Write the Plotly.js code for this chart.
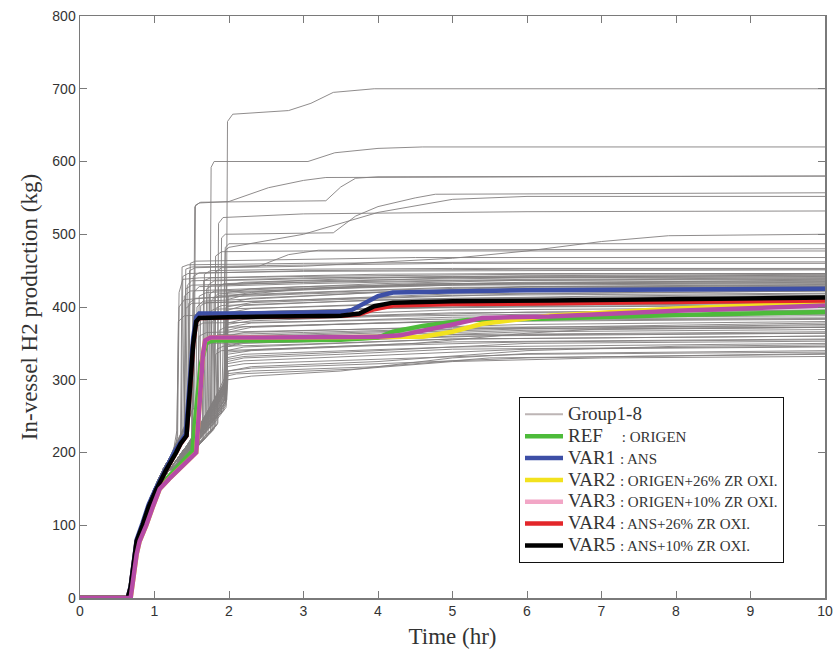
<!DOCTYPE html>
<html>
<head>
<meta charset="utf-8">
<script src="https://cdn.plot.ly/plotly-3.0.1.min.js"></script>
<style>html,body{margin:0;padding:0;background:#fff;}#chart{width:835px;height:659px;}</style>
</head>
<body>
<div id="chart"></div>
<script>
// ---- shared early rise (trunk) of the Group1-8 curves ----
const trunkT = [0, 0.64, 0.68, 0.72, 0.76, 0.84, 0.92, 1.02, 1.12, 1.2];
const trunkLeftY = [0, 0, 18, 55, 82, 106, 132, 156, 178, 192];
const trunkMidY  = [0, 0, 15, 50, 78, 100, 125, 148, 165, 176];
const trunkFanY  = [0, 0, 12, 45, 74, 97, 120, 140, 155, 165];

// ---- Group1-8 tails: [time, value, time, value, ...] ----
const grayLeft = [
  [1.25,200, 1.3,230, 1.33,420, 1.38,438, 1.6,440, 2.5,442, 4,445, 6,446, 10,446],
  [1.25,200, 1.31,222, 1.33,400, 1.4,410, 2,415, 3,425, 4.5,432, 10,435],
  [1.3,215, 1.42,240, 1.44,430, 1.5,436, 3,440, 5,442, 10,443],
  [1.3,212, 1.4,235, 1.42,452, 1.5,455, 2.5,457, 5,460, 10,460],
  [1.3,210, 1.45,245, 1.47,450, 1.55,454, 2.4,456, 2.8,472, 3.2,478, 10,480],
  [1.35,220, 1.52,262, 1.54,538, 1.6,543, 2.0,545, 2.53,564, 3.0,574, 3.3,578, 10,580],
  [1.35,220, 1.53,262, 1.55,540, 1.62,544, 3.3,546, 3.5,565, 3.7,577, 4,579, 10,580],
  [1.25,198, 1.35,225, 1.37,455, 1.45,458, 3,460, 6,462, 10,462],
  [1.25,195, 1.38,228, 1.4,415, 1.48,422, 3,428, 6,434, 10,436],
  [1.3,205, 1.4,228, 1.42,398, 1.5,405, 3,410, 5,418, 10,422],
  [1.2,192, 1.3,215, 1.32,380, 1.4,388, 3,394, 5,402, 10,406],
  [1.25,200, 1.36,226, 1.38,442, 1.45,446, 3,450, 6,452, 10,452],
  [1.25,198, 1.4,232, 1.42,425, 1.5,430, 3,434, 6,438, 10,440],
  [1.28,205, 1.44,242, 1.46,405, 1.55,412, 3,418, 6,426, 10,428],
  [1.3,208, 1.46,246, 1.48,460, 1.55,463, 3,465, 4.5,468, 10,468]
];
const grayMid = [
  [1.4,205, 1.6,230, 1.74,255, 1.76,592, 1.8,600, 3.06,600, 3.42,612, 4.0,618, 4.6,620, 10,620],
  [1.4,205, 1.6,228, 1.84,250, 1.86,515, 1.92,523, 3,528, 6,531, 10,532],
  [1.4,205, 1.7,240, 1.88,255, 1.9,495, 1.95,500, 3.4,502, 3.7,525, 4.0,538, 4.5,550, 4.77,555, 10,557],
  [1.4,200, 1.6,220, 1.8,240, 1.82,448, 1.9,454, 3,456, 4,462, 5,467, 6,477, 7,490, 7.9,498, 10,500],
  [1.45,210, 1.5,215, 1.52,420, 1.6,428, 3,432, 5,436, 10,438],
  [1.45,208, 1.55,220, 1.57,400, 1.65,408, 2.5,412, 4,420, 6,428, 10,430],
  [1.4,205, 1.65,232, 1.67,445, 1.75,450, 3,452, 5,453, 10,453],
  [1.4,205, 1.7,238, 1.72,430, 1.8,436, 3.5,440, 6,441, 10,441],
  [1.4,205, 1.75,240, 1.77,410, 1.85,418, 3,425, 5,432, 10,437],
  [1.4,205, 1.8,245, 1.82,470, 1.9,476, 3,477, 10,477],
  [1.45,210, 1.9,255, 1.95,482, 2.0,487, 10,487],
  [1.4,205, 1.75,240, 1.93,258, 1.95,478, 2.0,482, 3,500, 4,530, 5,548, 6,552, 10,552],
  [1.4,205, 1.8,240, 1.96,262, 1.98,655, 2.05,665, 2.8,670, 3.1,680, 3.4,695, 3.95,700, 10,700]
];
const grayNorm = [
  [1.3,180, 1.5,200, 1.55,372, 1.65,378, 3,380, 5,386, 10,390],
  [1.3,178, 1.55,205, 1.6,360, 1.7,365, 3,368, 5,372, 10,374],
  [1.3,180, 1.6,210, 1.65,345, 1.75,350, 3,352, 5,360, 10,364],
  [1.3,182, 1.6,212, 1.7,222, 1.72,392, 1.8,397, 3,400, 5,406, 10,408],
  [1.3,180, 1.65,216, 1.75,228, 1.77,380, 1.85,384, 3,386, 5,392, 10,395],
  [1.3,176, 1.7,222, 1.8,234, 1.82,335, 1.9,340, 3,344, 5,352, 10,356],
  [1.3,184, 1.5,205, 1.58,214, 1.6,415, 1.7,420, 3,424, 5,430, 10,432],
  [1.3,182, 1.6,212, 1.68,222, 1.7,425, 1.78,430, 3,434, 5,440, 10,444],
  [1.3,186, 1.45,205, 1.5,210, 1.52,388, 1.6,392, 3,395, 5,400, 10,403],
  [1.3,180, 1.7,225, 1.85,240, 1.87,368, 1.95,372, 3,375, 5,380, 10,383],
  [1.3,182, 1.55,208, 1.6,213, 1.62,402, 1.7,406, 3,410, 5,416, 10,419],
  [1.3,181, 1.6,211, 1.72,224, 1.74,418, 1.8,422, 3,426, 5,431, 10,434],
  [1.3,183, 1.58,210, 1.64,218, 1.66,436, 1.75,440, 3,442, 6,445, 10,446],
  [1.3,179, 1.62,214, 1.8,232, 1.82,398, 1.9,402, 3,406, 5,412, 10,416],
  [1.3,185, 1.5,208, 1.52,442, 1.6,447, 3,449, 6,450, 10,451],
  [1.3,180, 1.68,220, 1.78,230, 1.8,412, 1.88,416, 3,420, 5,427, 10,429],
  [1.3,178, 1.66,218, 1.84,238, 1.86,428, 1.93,432, 3,436, 6,440, 10,442],
  [1.3,177, 1.6,212, 1.76,228, 1.78,358, 1.86,362, 3,365, 5,370, 10,372],
  [1.3,181, 1.64,216, 1.82,236, 1.84,342, 1.92,346, 3,349, 5,356, 10,360],
  [1.3,183, 1.56,210, 1.66,220, 1.68,382, 1.75,386, 3,389, 5,396, 10,399]
];
const grayFan = [
  [1.4,195, 1.6,218, 1.8,244, 1.95,266, 1.97,305, 2.1,308, 3,312, 3.77,315, 5,325, 7,330, 10,332],
  [1.4,196, 1.6,220, 1.8,247, 1.95,270, 1.97,318, 2.2,322, 4,328, 6,335, 10,338],
  [1.4,197, 1.6,222, 1.8,250, 1.94,274, 1.96,330, 2.2,335, 3,338, 5,345, 8,348, 10,350],
  [1.4,198, 1.6,224, 1.8,254, 1.95,279, 1.97,340, 2.2,345, 3.5,350, 5,356, 10,360],
  [1.4,199, 1.6,226, 1.8,257, 1.94,283, 1.96,350, 2.3,356, 4,362, 6,368, 10,372],
  [1.4,200, 1.6,228, 1.8,260, 1.95,287, 1.97,360, 2.2,365, 4,370, 6,376, 10,380],
  [1.4,201, 1.6,230, 1.8,263, 1.93,290, 1.95,345, 2.2,352, 3,358, 5,362, 10,366],
  [1.4,202, 1.6,232, 1.8,266, 1.96,294, 1.98,372, 2.3,378, 4,382, 7,386, 10,388],
  [1.4,203, 1.6,234, 1.8,270, 1.95,298, 1.97,385, 2.3,392, 4,398, 6,402, 10,405],
  [1.4,204, 1.6,236, 1.8,273, 1.94,302, 1.96,395, 2.2,402, 4,410, 7,415, 10,418],
  [1.4,196, 1.6,219, 1.85,252, 1.97,272, 1.99,312, 2.3,318, 4,325, 6,340, 8,346, 10,348],
  [1.4,197, 1.65,225, 1.85,256, 1.96,276, 1.98,325, 2.2,330, 3.5,335, 5,342, 10,346],
  [1.4,199, 1.6,227, 1.8,259, 1.95,284, 1.97,365, 2.3,372, 4,378, 6,384, 10,385],
  [1.4,201, 1.6,231, 1.8,264, 1.96,292, 1.98,378, 2.2,383, 4,388, 6,393, 10,396],
  [1.4,203, 1.6,235, 1.8,268, 1.95,296, 1.97,405, 2.3,412, 4,420, 6,425, 10,428],
  [1.4,204, 1.6,237, 1.8,271, 1.97,300, 1.99,415, 2.3,420, 4,428, 6,432, 10,433],
  [1.4,198, 1.6,223, 1.8,252, 1.94,272, 1.96,338, 2.5,342, 4.5,350, 6,364, 7,370, 10,372],
  [1.4,200, 1.6,229, 1.8,261, 1.93,286, 1.95,355, 2.5,360, 4,364, 6,370, 10,376],
  [1.4,195, 1.6,217, 1.8,242, 1.96,265, 1.98,300, 2.3,305, 3.5,312, 5,330, 6,336, 10,340],
  [1.4,204, 1.6,236, 1.8,272, 1.96,301, 1.98,392, 2.3,398, 4,404, 6,410, 10,412],
  [1.4,196, 1.6,221, 1.8,248, 1.96,270, 1.98,312, 2.3,316, 4,322, 6,330, 10,336],
  [1.4,198, 1.6,225, 1.8,255, 1.95,281, 1.97,322, 2.2,326, 4,334, 6,342, 10,345],
  [1.4,199, 1.6,227, 1.8,258, 1.96,285, 1.98,335, 2.3,340, 4,347, 6,352, 10,355],
  [1.4,200, 1.6,229, 1.8,262, 1.94,288, 1.96,345, 2.2,350, 4,356, 6,362, 10,364],
  [1.4,201, 1.6,231, 1.8,265, 1.95,291, 1.97,355, 2.3,361, 4,366, 6,372, 10,378],
  [1.4,202, 1.6,233, 1.8,268, 1.96,295, 1.98,368, 2.2,373, 4,378, 6,382, 10,384],
  [1.4,203, 1.6,235, 1.8,270, 1.95,297, 1.97,376, 2.3,381, 4,387, 6,390, 10,392],
  [1.4,204, 1.6,236, 1.8,272, 1.97,300, 1.99,388, 2.2,393, 4,398, 6,400, 10,402],
  [1.4,203, 1.6,234, 1.8,269, 1.94,294, 1.96,400, 2.3,406, 4,412, 6,418, 10,422],
  [1.4,202, 1.6,232, 1.8,267, 1.95,292, 1.97,410, 2.2,416, 4,423, 6,428, 10,431],
  [1.4,201, 1.6,230, 1.8,263, 1.96,289, 1.98,420, 2.3,425, 4,432, 6,437, 10,439],
  [1.4,200, 1.6,228, 1.8,260, 1.95,286, 1.97,430, 2.2,434, 4,440, 6,443, 10,445],
  [1.4,199, 1.6,226, 1.8,256, 1.93,280, 1.95,308, 2.3,312, 4,318, 5.5,330, 10,335],
  [1.4,197, 1.6,223, 1.8,251, 1.96,274, 1.98,328, 2.2,332, 4,340, 6,350, 10,353],
  [1.4,198, 1.6,224, 1.8,253, 1.95,277, 1.97,348, 2.3,353, 4,359, 6,366, 10,369]
];

// ---- highlighted cases ----
const refT  = [0, 0.66, 0.7, 0.74, 0.78, 0.86, 0.95, 1.04, 1.2, 1.35, 1.51, 1.55, 1.62, 1.7, 1.8, 2.5, 3.5, 4.0, 4.2, 4.6, 5.2, 6.2, 8, 10];
const refY  = [0, 0, 30, 60, 80, 100, 125, 150, 168, 185, 202, 250, 320, 352, 354, 354, 355, 358, 366, 374, 382, 384, 389, 393];
const var1T = [0, 0.64, 0.68, 0.72, 0.76, 0.84, 0.92, 1.02, 1.15, 1.28, 1.35, 1.42, 1.46, 1.52, 1.56, 1.6, 2.0, 3.0, 3.5, 3.65, 3.85, 4.0, 4.2, 5, 6, 8, 10];
const var1Y = [0, 0, 16, 52, 80, 103, 128, 151, 178, 203, 214, 225, 280, 358, 386, 391, 391, 392, 393, 396, 407, 415, 420, 422, 423, 424, 425];
const magT  = [0, 0.68, 0.72, 0.76, 0.8, 0.89, 0.98, 1.07, 1.2, 1.35, 1.5, 1.56, 1.6, 1.65, 1.68, 1.75, 2.5, 3.5, 4.0, 4.3, 4.6, 5.0, 5.4, 6.3, 8, 10];
const var2Y = [0, 0, 30, 60, 78, 100, 126, 150, 164, 180, 194, 200, 268, 335, 354, 358, 358, 358, 358, 358, 359, 366, 377, 388, 398, 406];
const var3Y = [0, 0, 30, 60, 78, 100, 126, 150, 164, 180, 194, 200, 268, 335, 354, 358, 358, 359, 359, 361, 368, 376, 385, 387, 395, 402];
const ansT  = [0, 0.64, 0.68, 0.72, 0.76, 0.84, 0.92, 1.02, 1.15, 1.29, 1.35, 1.43, 1.47, 1.52, 1.56, 1.6, 2.0, 3.0, 3.5, 3.75, 3.95, 4.2, 5.0, 6.3, 8, 10];
const var4Y = [0, 0, 15, 50, 78, 100, 125, 148, 175, 200, 212, 223, 275, 350, 380, 385, 386, 387, 388, 390, 397, 402, 404, 405, 407, 409];
const var5Y = [0, 0, 15, 50, 78, 100, 125, 148, 175, 200, 212, 223, 275, 350, 380, 385, 386, 387, 388, 391, 401, 406, 408, 409, 411, 413];

const legendNames = [
  '<span style="font-size:19px">Group1-8</span>',
  '<span style="font-size:19px">REF    </span><span style="font-size:15px">: ORIGEN</span>',
  '<span style="font-size:19px">VAR1 </span><span style="font-size:15px">: ANS</span>',
  '<span style="font-size:19px">VAR2 </span><span style="font-size:15px">: ORIGEN+26% ZR OXI.</span>',
  '<span style="font-size:19px">VAR3 </span><span style="font-size:15px">: ORIGEN+10% ZR OXI.</span>',
  '<span style="font-size:19px">VAR4 </span><span style="font-size:15px">: ANS+26% ZR OXI.</span>',
  '<span style="font-size:19px">VAR5 </span><span style="font-size:15px">: ANS+10% ZR OXI.</span>'
];
const legendColors = ['#bdb5b5', '#4dbb3a', '#3d4fa6', '#f2e21e', '#f2a6c6', '#e3262a', '#000000'];

const GRAY = 'rgb(130,127,127)';
const traces = [];
function addGray(trunkY, tails) {
  tails.forEach(tail => {
    const xs = trunkT.slice(), ys = trunkY.slice();
    for (let i = 0; i < tail.length; i += 2) { xs.push(tail[i]); ys.push(tail[i + 1]); }
    traces.push({x: xs, y: ys, mode: 'lines', line: {color: GRAY, width: 0.9},
                 showlegend: false, hoverinfo: 'skip'});
  });
}
addGray(trunkLeftY, grayLeft);
addGray(trunkMidY, grayMid);
addGray(trunkMidY, grayNorm);
addGray(trunkFanY, grayFan);

function addMain(x, y, color) {
  traces.push({x: x, y: y, mode: 'lines', line: {color: color, width: 4.5},
               showlegend: false, hoverinfo: 'skip'});
}
addMain(refT, refY, '#4dbb3a');
addMain(magT, var2Y, '#f2e21e');
addMain(ansT, var4Y, '#e3262a');
addMain(var1T, var1Y, '#3d4fa6');
addMain(ansT, var5Y, '#000000');
addMain(magT, var3Y, '#b64aa6');

legendNames.forEach((nm, i) => {
  traces.push({x: [null], y: [null], mode: 'lines', name: nm,
               line: {color: legendColors[i], width: i === 0 ? 2 : 4.5}, showlegend: true});
});

const axisCommon = {
  showline: true, linecolor: '#7a7a7a', linewidth: 1.5, mirror: 'ticks',
  ticks: 'inside', ticklen: 7, tickcolor: '#7a7a7a', tickwidth: 1,
  showgrid: false, zeroline: false,
  tickfont: {family: 'Liberation Sans, Arial, sans-serif', size: 14, color: '#333'}
};
const layout = {
  width: 835, height: 659,
  margin: {l: 80, r: 10, t: 16, b: 61},
  paper_bgcolor: '#fff', plot_bgcolor: '#fff',
  xaxis: Object.assign({}, axisCommon, {range: [0, 10], dtick: 1,
    title: {text: 'Time (hr)', standoff: 9, font: {family: 'Liberation Serif, Times New Roman, serif', size: 23, color: '#333'}}}),
  yaxis: Object.assign({}, axisCommon, {range: [0, 800], dtick: 100,
    title: {text: 'In-vessel H2 production (kg)', standoff: 8, font: {family: 'Liberation Serif, Times New Roman, serif', size: 23, color: '#333'}}}),
  legend: {x: 0.589, y: 0.345, xanchor: 'left', yanchor: 'top', itemwidth: 38,
    bgcolor: '#fff', bordercolor: '#111', borderwidth: 1.2, tracegroupgap: 0,
    font: {family: 'Liberation Serif, Times New Roman, serif', size: 14.5, color: '#333'}},
  showlegend: true
};
Plotly.newPlot('chart', traces, layout, {displayModeBar: false, staticPlot: true});
</script>
</body>
</html>
